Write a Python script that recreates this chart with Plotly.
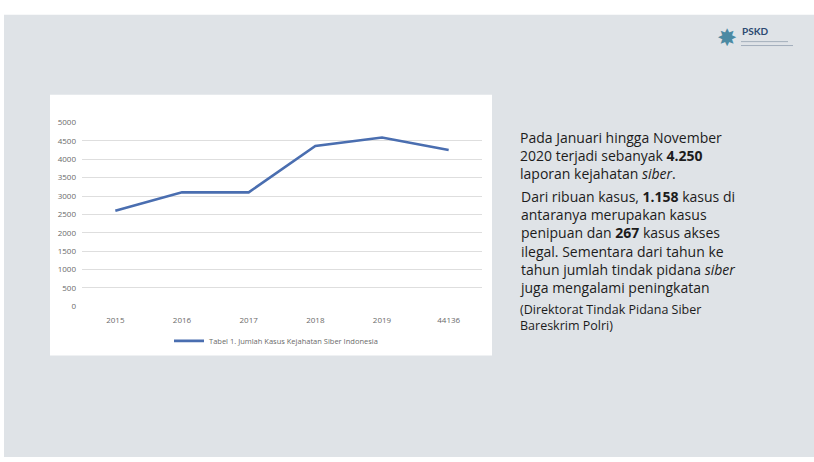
import plotly.graph_objects as go

categories = ["2015", "2016", "2017", "2018", "2019", "44136"]
values = [2600, 3100, 3100, 4360, 4590, 4250]
series_name = "Tabel 1. Jumlah Kasus Kejahatan Siber Indonesia"
y_ticks = [0, 500, 1000, 1500, 2000, 2500, 3000, 3500, 4000, 4500, 5000]

paragraphs = [
    ("Pada Januari hingga November<br>2020 terjadi sebanyak <b>4.250</b><br>"
     "laporan kejahatan <i>siber</i>.", 153, "Open Sans", 14),
    ("Dari ribuan kasus, <b>1.158</b> kasus di<br>antaranya merupakan kasus<br>"
     "penipuan dan <b>267</b> kasus akses<br>ilegal. Sementara dari tahun ke<br>"
     "tahun jumlah tindak pidana <i>siber</i><br>juga mengalami peningkatan", 241.5, "Open Sans", 14),
    ("(Direktorat Tindak Pidana Siber<br>Bareskrim Polri)", 319.5, "Open Sans", 12.5),
]

W, H = 814, 462

def px(x):
    return x / W

def py(y):
    return 1 - y / H

fig = go.Figure()
fig.add_trace(go.Scatter(
    x=categories, y=values, mode="lines", name=series_name,
    line=dict(color="#4a6eb0", width=2.6),
))

shapes = [
    dict(type="rect", xref="paper", yref="paper", x0=px(4), x1=1.0, y0=0, y1=py(9),
         fillcolor="#dfe3e7", line=dict(width=0), layer="below"),
    dict(type="rect", xref="paper", yref="paper", x0=px(50), x1=px(492), y0=py(358), y1=py(91),
         fillcolor="#ffffff", line=dict(width=0), layer="below"),
    dict(type="line", xref="paper", yref="paper", x0=px(741), x1=px(788), y0=py(36.5), y1=py(36.5),
         line=dict(color="#a3aebb", width=1)),
    dict(type="line", xref="paper", yref="paper", x0=px(741), x1=px(793), y0=py(40.5), y1=py(40.5),
         line=dict(color="#a3aebb", width=1)),
]

annotations = []
for txt, yc, fam, sz in paragraphs:
    annotations.append(dict(
        xref="paper", yref="paper", x=px(518), y=py(yc), xanchor="left", yanchor="middle",
        align="left", showarrow=False, text=txt,
        font=dict(family=fam, size=sz, color="#1c1c1c")))

annotations += [
    dict(xref="paper", yref="paper", x=px(727), y=py(33), xanchor="center", yanchor="middle",
         showarrow=False, text="✸", font=dict(family="DejaVu Sans", size=24, color="#4b8aa3")),
    dict(xref="paper", yref="paper", x=px(740), y=py(25.5), xanchor="left", yanchor="middle",
         showarrow=False, text="<b>PSKD</b>", font=dict(family="Lato", size=10, color="#2c4a72")),
]

fig.update_layout(
    width=W, height=H,
    margin=dict(l=0, r=0, t=0, b=0),
    paper_bgcolor="#ffffff",
    plot_bgcolor="rgba(0,0,0,0)",
    showlegend=True,
    legend=dict(orientation="h", x=px(276), y=py(343), xanchor="center", yanchor="middle",
                font=dict(family="Open Sans", size=7.5, color="#6a6a6a"),
                bgcolor="rgba(0,0,0,0)"),
    xaxis=dict(domain=[px(82), px(482)], type="category", range=[-0.5, 5.5],
               showgrid=False, showline=False,
               zeroline=False, ticks="", tickfont=dict(family="Open Sans", size=8, color="#6a6a6a"),
               ticklabelstandoff=8, fixedrange=True),
    yaxis=dict(domain=[py(307.7), py(119.3)], range=[0, 5000], tickvals=y_ticks,
               showgrid=True, gridcolor="#dedede", gridwidth=1, zeroline=False, showline=False,
               ticks="", tickfont=dict(family="Open Sans", size=8, color="#6a6a6a"),
               ticklabelstandoff=5, fixedrange=True),
    shapes=shapes,
    annotations=annotations,
)

fig.write_html("out.html",
               post_script="document.body.style.margin='0';document.body.style.overflow='hidden';")
